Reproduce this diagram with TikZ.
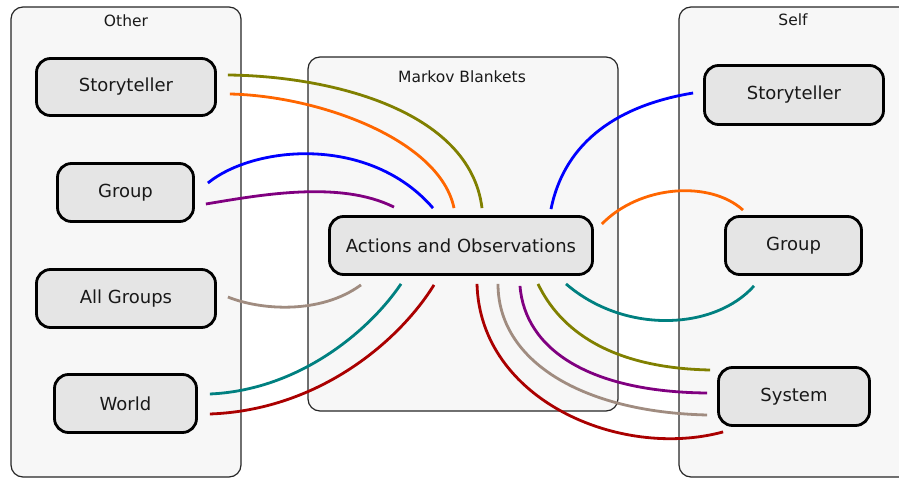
\documentclass[tikz,border=0pt]{standalone}
\usepackage{fontspec}
\setmainfont{DejaVu Sans}
\usetikzlibrary{positioning}

\definecolor{linkolive}{HTML}{808000}
\definecolor{linkorange}{HTML}{FF6600}
\definecolor{linkblue}{HTML}{0000FF}
\definecolor{linkpurple}{HTML}{800080}
\definecolor{linkbrown}{HTML}{A08C80}
\definecolor{linkteal}{HTML}{008080}
\definecolor{linkred}{HTML}{AA0000}

\begin{document}
\begin{tikzpicture}[
  x=1pt, y=-1pt,
  panel/.style={draw=black!85, line width=1.2pt, fill=black!3, rounded corners=12pt, inner sep=0pt},
  panel title/.style={font=\fontsize{15.5}{18}\selectfont, text=black!90},
  agent/.style={draw=black, line width=2.8pt, fill=black!10, rounded corners=14pt,
    font=\fontsize{18}{22}\selectfont, text=black!90, inner sep=0pt},
  link/.style={line width=2.8pt}
]
  \clip (0,0) rectangle (899,478);

  % Background panels
  \node[panel, minimum width=230pt, minimum height=470pt] (other) at (126,242) {};
  \node[panel, minimum width=310pt, minimum height=354pt] (blanket) at (463,234) {};
  \node[panel, minimum width=240pt, minimum height=470pt] (self) at (799,242) {};
  \node[panel title] (othertitle) at (126,21) {Other};
  \node[panel title] (blankettitle) at (462,77) {Markov Blankets};
  \node[panel title] (selftitle) at (793,20) {Self};

  % Other side
  \node[agent, minimum width=179pt, minimum height=57pt] (ostory) at (126,87) {Storyteller};
  \node[agent, minimum width=136pt, minimum height=58pt] (ogroup) at (125.5,192.5) {Group};
  \node[agent, minimum width=179pt, minimum height=58pt] (oall) at (126,298.5) {All Groups};
  \node[agent, minimum width=142pt, minimum height=58pt] (oworld) at (125.5,403.5) {World};

  % Blanket
  \node[agent, minimum width=263pt, minimum height=58pt] (acts) at (461,245.5) {Actions and Observations};

  % Self side
  \node[agent, minimum width=179pt, minimum height=59pt] (sstory) at (794,95) {Storyteller};
  \node[agent, minimum width=136pt, minimum height=58pt] (sgroup) at (793.5,245.5) {Group};
  \node[agent, minimum width=151pt, minimum height=58pt] (ssystem) at (794,396.5) {System};

  % Links from the other side into the blanket
  \draw[link, linkolive] ([shift={(11,-12)}]ostory.east) .. controls +(102,1) and +(-12,-98) .. ([shift={(21,-7)}]acts.north);
  \draw[link, linkorange] ([shift={(13,7)}]ostory.east) .. controls +(90,2) and +(-14,-68) .. ([shift={(-7,-7)}]acts.north);
  \draw[link, linkblue] ([shift={(13,-9.5)}]ogroup.east) .. controls +(47,-38) and +(-63,-73) .. ([shift={(-28,-7)}]acts.north);
  \draw[link, linkpurple] ([shift={(11,11.5)}]ogroup.east) .. controls +(54,-9) and +(-54,-27) .. ([shift={(-67,-8)}]acts.north);
  \draw[link, linkbrown] ([shift={(11,-1.5)}]oall.east) .. controls +(32,13) and +(-41,30) .. ([shift={(-100,9)}]acts.south);
  \draw[link, linkteal] ([shift={(12,-9.5)}]oworld.east) .. controls +(90,-4) and +(-31,46) .. ([shift={(-60,8)}]acts.south);
  \draw[link, linkred] ([shift={(12,10.5)}]oworld.east) .. controls +(110,-4) and +(-34,55) .. ([shift={(-27,9)}]acts.south);

  % Links from the blanket to the self side
  \draw[link, linkred] ([shift={(16,8)}]acts.south) .. controls +(3,116) and +(-103,28) .. ([shift={(6,5)}]ssystem.south west);
  \draw[link, linkbrown] ([shift={(37,8)}]acts.south) .. controls +(0,76) and +(-127,-3) .. ([shift={(-10,18.5)}]ssystem.west);
  \draw[link, linkpurple] ([shift={(59,10)}]acts.south) .. controls +(5,64) and +(-117,-1) .. ([shift={(-10,-3.5)}]ssystem.west);
  \draw[link, linkolive] ([shift={(77,8)}]acts.south) .. controls +(22,46) and +(-100,-2) .. ([shift={(-7,-26.5)}]ssystem.west);
  \draw[link, linkteal] ([shift={(105,8)}]acts.south) .. controls +(59,51) and +(-39,44) .. ([shift={(-39.5,10)}]sgroup.south);
  \draw[link, linkorange] ([shift={(8,-21.5)}]acts.east) .. controls +(38,-39) and +(-33,-30) .. ([shift={(-50.5,-5)}]sgroup.north);
  \draw[link, linkblue] ([shift={(90,-6)}]acts.north) .. controls +(14,-69) and +(-73,12) .. ([shift={(-10,-2)}]sstory.west);

\end{tikzpicture}
\end{document}
